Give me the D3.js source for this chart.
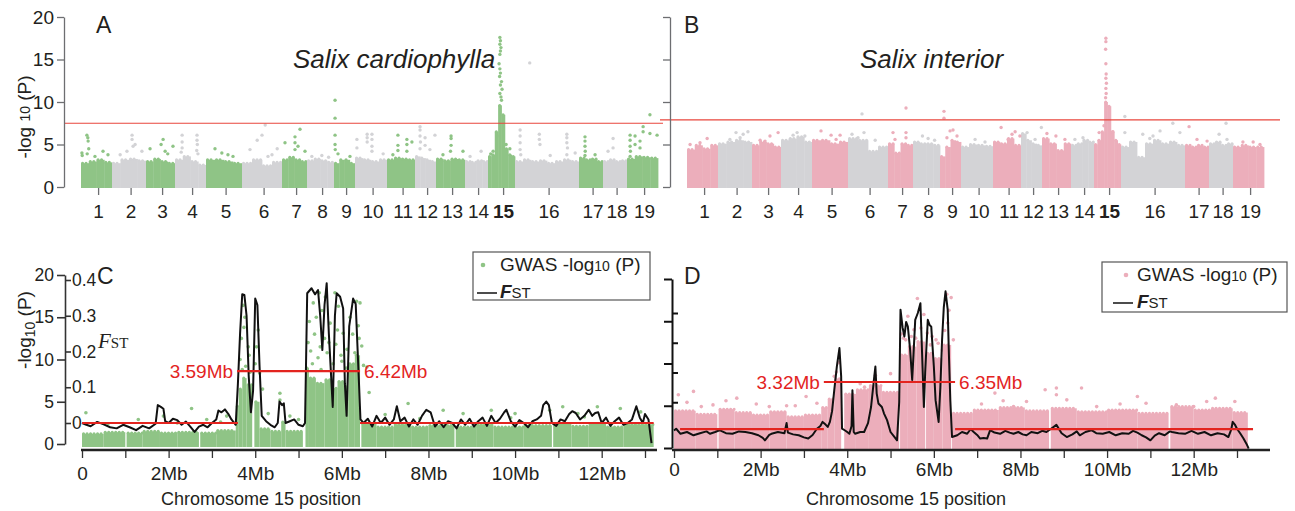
<!DOCTYPE html>
<html>
<head>
<meta charset="utf-8">
<script src="https://cdn.jsdelivr.net/npm/d3@7"></script>
<style>
  body { margin: 0; background: #fff; }
  text { font-family: "Liberation Sans", Arial, sans-serif; }
</style>
</head>
<body>
<svg id="mainsvg" width="1295" height="511"></svg>
<script>
// ---------------- data ----------------
// relative size of the 19 chromosomes (same genome layout in A and B)
const chromSize = [31, 34, 29, 31, 36, 40, 25, 27, 21, 32, 28, 21, 29, 23, 27, 64, 24, 24, 31];
const chromLabels = d3.range(1, 20).map(String);

// dense cloud of points: top of the cloud in bins along each chromosome
const bandA = [
  [2.8, 3.0, 3.2, 2.9], [2.8, 3.2, 3.3, 3.1], [3.0, 3.3, 3.0, 2.8], [3.2, 3.6, 3.0, 2.6],
  [3.2, 3.2, 3.0, 2.8], [2.8, 3.2, 2.5, 2.9], [3.2, 3.5, 3.2, 3.0], [3.1, 3.3, 3.1, 2.9],
  [2.8, 3.2, 3.2, 2.8], [3.4, 3.2, 3.0, 3.2], [3.2, 3.4, 3.3, 3.2], [3.6, 3.4, 3.2, 3.0],
  [3.3, 3.1, 3.3, 3.2], [3.0, 2.9, 3.1, 3.0], [3.6, 3.8, 6.5, 9.6, 8.5, 4.5, 3.8, 3.6],
  [3.0, 3.2, 3.0, 3.1, 2.8, 3.0, 3.2, 3.0], [3.4, 3.2, 3.3, 3.0], [3.0, 3.2, 3.0, 3.1],
  [3.3, 3.6, 3.5, 3.4]
];
const bandB = [
  [4.4, 4.9, 4.5, 4.9], [5.1, 5.3, 5.5, 5.3], [4.9, 5.3, 5.1, 4.7], [5.5, 5.7, 5.9, 5.3],
  [5.5, 5.5, 5.1, 5.3], [5.7, 5.5, 4.2, 4.7], [5.1, 4.0, 5.1, 4.9], [5.3, 5.1, 5.1, 4.9],
  [3.6, 4.7, 5.5, 5.3], [4.7, 5.0, 4.9, 4.8], [5.3, 5.1, 5.7, 4.9], [6.3, 5.5, 5.1, 4.9],
  [5.7, 5.1, 4.3, 5.1], [4.9, 5.1, 5.5, 5.3], [5.0, 5.5, 6.5, 10.0, 9.5, 6.5, 5.5, 5.0],
  [4.7, 5.3, 3.5, 5.1, 5.5, 5.1, 5.3, 4.9], [4.9, 4.7, 4.9, 4.7], [5.1, 5.3, 4.9, 5.1],
  [4.7, 4.9, 4.7, 4.7]
];

// scattered points above the cloud: [chromosome, fraction along it, -log10 P]
const outliersA = [
  [1,.19,6.1],[1,.22,5.8],[1,.23,5.4],[1,.25,4.5],[1,.2,3.9],[1,.03,4.0],[1,.04,3.7],[1,.71,4.2],[1,.87,3.8],[1,.45,3.6],
  [2,.59,6.1],[2,.59,5.6],[2,.68,5.0],[2,.62,4.8],[2,.44,4.2],[2,.88,4.2],[2,.24,3.8],
  [3,.14,4.5],[3,.59,5.6],[3,.52,5.0],[3,.93,4.8],[3,.66,4.2],[3,.75,3.9],
  [4,.23,6.1],[4,.23,5.3],[4,.23,4.6],[4,.2,4.1],[4,.71,6.1],[4,.71,5.5],[4,.72,5.0],[4,.7,4.3],[4,.74,3.9],
  [5,.25,4.5],[5,.44,4.0],[5,.75,3.6],[5,.61,3.8],
  [6,.58,7.3],[6,.5,6.1],[6,.38,5.5],[6,.2,4.4],[6,.65,3.6],[6,.88,4.5],[6,.75,3.8],
  [7,.72,6.8],[7,.52,5.9],[7,.52,5.2],[7,.52,4.4],[7,.12,5.2],[7,.92,4.2],[7,.64,4.8],
  [8,.18,3.6],[8,.55,3.7],[8,.8,3.5],
  [9,.05,10.2],[9,.05,8.1],[9,.05,6.1],[9,.05,5.0],[9,.06,4.4],[9,.19,3.9],[9,.76,3.6],
  [10,.38,6.2],[10,.38,5.8],[10,.38,5.3],[10,.53,6.2],[10,.53,5.6],[10,.53,4.8],[10,.53,4.2],[10,.06,5.6],[10,.06,4.6],[10,.88,3.9],
  [11,.39,6.1],[11,.39,4.9],[11,.39,4.3],[11,.71,5.6],[11,.71,5.0],[11,.71,4.2],[11,.89,5.3],[11,.21,3.8],
  [12,.24,7.1],[12,.24,6.7],[12,.24,6.0],[12,.26,5.3],[12,.24,4.5],[12,.48,5.8],[12,.48,4.9],[12,.95,6.1],[12,.71,4.4],
  [13,.52,6.0],[13,.52,5.7],[13,.52,4.9],[13,.5,4.2],[13,.93,4.2],[13,.24,3.8],
  [14,.7,4.2],[14,.22,3.6],
  [15,.44,17.6],[15,.46,17.2],[15,.44,16.8],[15,.48,16.4],[15,.46,16.0],[15,.44,15.6],[15,.41,14.5],[15,.44,13.9],
  [15,.46,13.4],[15,.43,13.0],[15,.5,12.4],[15,.46,12.0],[15,.52,11.5],[15,.44,11.0],[15,.48,10.6],[15,.5,10.2],
  [15,.33,6.0],[15,.19,4.2],[15,.81,4.5],[15,.67,5.0],[15,.1,3.9],
  [16,.23,14.6],[16,.08,6.7],[16,.08,6.0],[16,.08,5.2],[16,.08,4.4],[16,.09,3.8],[16,.38,6.2],[16,.38,5.6],[16,.39,5.0],
  [16,.81,6.2],[16,.81,5.8],[16,.81,5.2],[16,.82,4.6],[16,.81,3.8],[16,.55,3.7],[16,.94,4.0],
  [17,.25,5.9],[17,.25,5.4],[17,.25,4.8],[17,.26,4.2],[17,.25,3.7],[17,.67,3.8],
  [18,.42,5.7],[18,.42,4.6],[18,.21,4.2],
  [19,.74,8.5],[19,.52,7.1],[19,.52,6.5],[19,.74,6.3],[19,.97,6.1],[19,.1,6.1],[19,.1,5.5],[19,.1,4.8],[19,.11,4.2],
  [19,.1,3.6],[19,.26,6.0],[19,.26,5.0],[19,.42,5.4],[19,.42,4.6]
];
const outliersB = [
  [1,.65,5.7],[1,.42,5.2],[1,.1,5.0],
  [2,.53,6.4],[2,.74,6.2],[2,.88,6.5],[2,.35,5.6],[2,.65,5.8],
  [3,.62,6.0],[3,.9,6.4],[3,.45,5.4],[3,.28,5.5],
  [4,.39,6.1],[4,.52,6.4],[4,.77,6.0],[4,.3,5.6],
  [5,.25,6.6],[5,.53,6.1],[5,.78,6.1],[5,.11,5.2],[5,.67,5.6],
  [6,.35,8.6],[6,.1,6.2],[6,.4,6.4],[6,.25,5.8],[6,.68,5.5],
  [7,.72,9.3],[7,.2,6.4],[7,.72,6.4],[7,.72,5.8],[7,.28,5.6],
  [8,.35,6.0],[8,.56,5.7],[8,.8,5.5],
  [9,.19,8.9],[9,.19,8.1],[9,.48,6.6],[9,.62,6.7],[9,.81,6.0],[9,.33,5.8],
  [10,.44,5.6],[10,.75,5.3],
  [11,.29,7.0],[11,.68,6.2],[11,.79,6.5],[11,.96,6.0],[11,.54,5.6],
  [12,.29,6.4],[12,.97,7.0],[12,.67,5.6],
  [13,.17,6.3],[13,.48,6.0],[13,.79,5.6],
  [14,.17,5.6],[14,.52,5.8],
  [15,.44,17.5],[15,.44,17.1],[15,.43,16.2],[15,.44,14.5],[15,.45,13.3],[15,.44,12.8],[15,.46,12.2],
  [15,.44,11.6],[15,.45,11.0],[15,.43,10.5],[15,.37,7.2],[15,.7,6.5],[15,.19,6.4],
  [16,.06,8.3],[16,.06,6.4],[16,.34,6.2],[16,.61,6.6],[16,.81,7.5],[16,.92,6.4],[16,.5,6.0],[16,.45,5.7],
  [17,.17,7.1],[17,.5,5.6],[17,.92,5.4],
  [18,.71,7.5],[18,.42,6.2],[18,.75,5.6],
  [19,.32,5.3],[19,.65,5.3],[19,.87,5.0]
];
const thresholdA = 7.5;
const thresholdB = 7.9;

// chromosome 15 detail: dense cloud [start Mb, end Mb, top -log10 P]
const bandC = [
  [0.00,0.50,1.2],[0.50,1.00,1.4],[1.03,1.40,1.3],[1.40,1.80,1.5],[1.80,2.20,1.3],[2.20,2.70,1.4],
  [2.73,3.10,1.3],[3.10,3.55,1.6],[3.55,3.62,4.5],[3.62,3.70,6.5],[3.70,3.80,7.8],[3.80,3.93,7.0],
  [3.98,4.10,5.0],[4.10,4.35,1.8],[4.35,4.60,1.5],[4.60,4.70,2.6],[4.70,5.10,1.5],[5.16,5.24,9.0],
  [5.24,5.40,7.8],[5.40,5.60,7.2],[5.60,5.75,7.6],[5.75,5.90,6.6],[5.90,6.05,7.4],[6.05,6.15,6.8],
  [6.15,6.30,9.5],[6.30,6.42,10.5],[6.45,6.80,2.4],[6.80,7.20,2.0],[7.20,7.60,2.3],[7.60,8.00,2.0],
  [8.00,8.60,2.2],[8.63,9.10,2.0],[9.10,9.50,2.3],[9.50,10.20,2.0],[10.20,10.85,2.2],[10.88,11.30,2.4],
  [11.30,11.70,2.1],[11.70,12.10,2.4],[12.10,12.50,2.0],[12.50,13.20,2.3]
];
const bandD = [
  [0.00,0.50,4.4],[0.50,1.00,4.0],[1.03,1.40,4.6],[1.40,1.80,4.2],[1.80,2.20,3.9],[2.20,2.60,4.3],
  [2.60,3.00,3.7],[3.00,3.40,3.9],[3.40,3.55,4.8],[3.55,3.70,5.8],[3.70,3.86,8.2],[3.93,4.20,6.4],
  [4.20,4.50,6.9],[4.50,4.80,7.4],[4.80,5.20,6.6],[5.22,5.40,11.0],[5.40,5.60,12.0],[5.60,5.80,12.6],
  [5.82,6.00,11.2],[6.00,6.20,10.6],[6.20,6.40,12.2],[6.42,6.90,4.1],[6.90,7.50,4.5],[7.50,8.10,4.8],
  [8.10,8.66,4.4],[8.70,9.30,4.7],[9.30,10.00,4.3],[10.00,10.70,4.5],[10.70,11.42,4.1],[11.46,12.00,4.9],
  [12.00,12.40,4.5],[12.40,12.90,4.7],[12.90,13.25,4.2]
];
// scattered points [Mb, -log10 P]
const outliersC = [
  [0.09,3.7],[1.3,2.9],[1.88,3.3],[2.53,4.2],[2.88,2.9],[3.34,3.3],[0.6,2.4],[2.2,2.5],[3.2,2.6],
  [3.72,16.4],[3.76,15.0],[3.84,11.5],[3.65,10.0],[3.78,9.2],[3.7,8.8],[3.88,8.5],[3.68,12.5],[3.74,13.8],
  [3.86,10.5],[4.0,9.5],
  [4.07,13.5],[4.03,11.5],[4.1,8.4],[4.17,6.5],[4.57,6.0],[4.57,5.2],[4.8,3.3],[5.0,2.9],[4.3,3.6],
  [5.34,16.7],[5.41,15.0],[5.48,17.9],[5.37,13.0],[5.6,12.5],[5.28,11.0],[5.45,10.2],
  [5.54,15.8],[5.62,17.4],[5.73,14.3],[5.84,17.9],[5.92,16.3],[6.03,13.1],[6.19,15.0],[6.34,16.9],
  [6.42,16.7],[6.46,11.6],[5.8,9.5],[6.1,9.0],[5.98,10.5],
  [5.22,12.0],[5.25,14.5],[5.32,9.5],[5.5,11.5],[5.52,8.8],[5.66,10.8],[5.7,12.0],[5.86,11.8],
  [5.9,13.5],[6.0,9.8],[6.12,11.2],[6.25,13.0],[6.3,10.8],[6.38,14.0],[6.4,12.5],
  [6.5,9.3],[6.58,9.1],[6.63,6.1],[7.53,4.8],[8.34,4.0],[8.8,3.6],[9.45,4.0],[10.0,3.6],[10.8,4.0],
  [11.1,4.4],[11.45,3.6],[11.9,4.4],[12.43,4.2],[7.0,3.5],[12.9,3.8],[7.8,3.0],[9.9,3.1],[11.6,3.2]
];
const outliersD = [
  [0.1,6.3],[0.45,6.7],[0.63,4.9],[1.45,5.9],[0.9,5.1],[2.2,4.9],[3.05,6.1],[1.9,5.2],[2.6,5.0],
  [0.3,5.4],[1.2,5.6],[2.8,5.0],[3.3,5.3],
  [3.7,8.5],[3.8,10.1],[4.55,7.3],[4.63,8.0],[5.0,8.8],[4.3,7.6],[3.75,9.0],[4.65,8.6],[4.4,7.2],
  [5.62,17.7],[5.4,15.6],[5.54,14.0],[5.77,15.8],[5.96,13.2],[6.3,18.2],[6.4,17.8],[6.45,12.8],
  [6.2,11.6],[6.35,16.3],[5.3,13.0],[6.05,12.8],
  [5.25,13.5],[5.35,12.8],[5.48,13.2],[5.58,13.0],[5.7,14.2],[5.85,13.6],[5.92,12.2],[6.1,12.4],
  [6.25,13.9],[6.32,14.8],
  [7.41,6.5],[8.57,6.9],[8.83,7.1],[8.83,6.3],[9.41,7.1],[9.76,4.9],[10.3,5.2],[10.7,6.1],
  [11.6,5.1],[12.0,4.9],[12.95,5.5],[8.14,5.5],[9.07,5.7],[7.84,4.9],[7.1,5.2],
  [7.6,5.6],[10.9,5.3],[12.5,5.9],[12.3,5.5]
];

// FST sliding window [Mb, FST]
const fstC = [
  [0,0],[0.1,-0.005],[0.2,-0.009],[0.35,0.003],[0.5,-0.004],[0.65,-0.012],[0.8,-0.015],[0.95,-0.005],
  [1.1,-0.012],[1.25,-0.02],[1.4,-0.008],[1.55,-0.015],[1.7,-0.002],[1.75,0.05],[1.82,0.045],[1.88,0.04],
  [1.92,0.005],[2.0,0],[2.1,0.012],[2.2,0.008],[2.3,-0.005],[2.4,0.004],[2.5,-0.01],[2.6,-0.025],
  [2.7,-0.01],[2.8,-0.005],[2.9,-0.012],[3.0,0],[3.1,0.01],[3.15,0.035],[3.22,0.03],[3.3,0.038],
  [3.38,0.025],[3.45,0.01],[3.55,-0.005],[3.6,0.11],[3.65,0.25],[3.7,0.36],[3.75,0.358],[3.8,0.3],
  [3.85,0.13],[3.9,0.03],[3.95,0.09],[4.0,0.348],[4.05,0.33],[4.1,0.158],[4.15,0.02],[4.25,0.005],
  [4.35,-0.005],[4.45,-0.012],[4.52,0],[4.56,0.06],[4.62,0.05],[4.66,0.055],[4.7,0],[4.8,0.005],
  [4.9,0.01],[5.0,-0.005],[5.1,-0.009],[5.15,0],[5.2,0.363],[5.3,0.377],[5.38,0.36],[5.45,0.372],
  [5.5,0.3],[5.55,0.204],[5.6,0.33],[5.65,0.391],[5.7,0.25],[5.79,0.045],[5.84,0.3],[5.88,0.363],
  [5.96,0.353],[6.03,0.32],[6.07,0.11],[6.11,0.02],[6.17,0.27],[6.26,0.348],[6.32,0.333],[6.38,0.158],
  [6.43,0.01],[6.5,0],[6.6,0.012],[6.7,-0.01],[6.8,0.02],[6.9,0],[7.0,0.015],[7.1,-0.005],[7.2,0.01],
  [7.27,0.047],[7.35,0.005],[7.45,0.015],[7.55,-0.01],[7.65,0.01],[7.75,-0.005],[7.85,0.02],[7.95,0.037],
  [8.05,0.03],[8.15,-0.01],[8.25,0.005],[8.35,-0.012],[8.45,0.005],[8.55,0],[8.65,-0.015],[8.75,0.01],
  [8.85,-0.005],[8.95,0.012],[9.05,-0.01],[9.15,0.005],[9.25,0.015],[9.35,-0.008],[9.45,0.02],[9.55,0],
  [9.65,0.012],[9.75,0.03],[9.8,0.037],[9.9,0.005],[10.0,-0.01],[10.1,0.008],[10.2,0],[10.3,-0.012],
  [10.4,0.005],[10.5,0.01],[10.6,0.02],[10.65,0.05],[10.72,0.06],[10.78,0.05],[10.85,0],[10.95,-0.008],
  [11.05,0.01],[11.15,0.005],[11.25,0.025],[11.32,0.033],[11.4,0.028],[11.5,0.01],[11.6,0.02],[11.7,0.037],
  [11.78,0.02],[11.85,0.028],[11.92,0.03],[12.0,0],[12.1,0.015],[12.2,-0.008],[12.3,0.005],[12.4,0.015],
  [12.5,-0.005],[12.6,0],[12.7,0.01],[12.8,0.047],[12.88,0.015],[12.95,0],[13.0,0.025],[13.08,0.01],
  [13.15,-0.056]
];
const fstD = [
  [0,0.005],[0.05,0.011],[0.15,-0.006],[0.3,0],[0.45,-0.011],[0.6,-0.004],[0.75,0.002],[0.83,-0.006],
  [0.95,0],[1.05,0.006],[1.2,-0.004],[1.35,-0.006],[1.5,0.002],[1.65,0],[1.8,-0.004],[1.95,-0.011],
  [2.05,-0.02],[2.1,-0.028],[2.2,-0.01],[2.25,-0.006],[2.4,0],[2.55,-0.004],[2.6,0.03],[2.63,-0.002],
  [2.75,-0.008],[2.88,-0.011],[3.0,-0.018],[3.1,-0.022],[3.2,-0.01],[3.3,0.011],[3.38,0.02],[3.43,0.034],
  [3.5,0.025],[3.55,0.017],[3.6,0.034],[3.65,0.07],[3.7,0.14],[3.76,0.22],[3.82,0.282],[3.86,0.186],
  [3.88,0.011],[3.95,0.005],[4.0,0],[4.05,-0.006],[4.1,0.02],[4.12,0.14],[4.15,0],[4.18,-0.006],
  [4.3,0],[4.39,0],[4.48,0.03],[4.55,0.084],[4.62,0.18],[4.65,0.22],[4.68,0.13],[4.72,0.096],
  [4.8,0.084],[4.85,0.062],[4.92,0.04],[5.0,0],[5.08,-0.015],[5.15,-0.028],[5.2,0.1],[5.23,0.411],
  [5.28,0.35],[5.32,0.321],[5.36,0.37],[5.4,0.354],[5.45,0.28],[5.5,0.175],[5.53,0.26],[5.57,0.377],
  [5.63,0.4],[5.69,0.433],[5.72,0.3],[5.77,0.084],[5.8,0.2],[5.86,0.377],[5.9,0.36],[5.94,0.354],
  [6.0,0.22],[6.04,0.107],[6.11,0.034],[6.15,0.15],[6.19,0.31],[6.23,0.42],[6.27,0.473],[6.32,0.411],
  [6.35,0.25],[6.38,0.107],[6.42,-0.017],[6.54,-0.011],[6.65,0],[6.77,-0.006],[6.85,0.01],[6.92,0],
  [7.0,-0.01],[7.07,-0.022],[7.15,-0.02],[7.23,-0.022],[7.3,0.006],[7.4,-0.002],[7.53,-0.006],[7.65,0.004],
  [7.75,-0.002],[7.84,-0.006],[7.95,0],[8.05,-0.008],[8.14,-0.011],[8.25,0],[8.4,-0.004],[8.5,0.004],
  [8.6,0],[8.7,0.01],[8.83,0.024],[8.95,-0.004],[9.07,-0.017],[9.2,-0.008],[9.3,0.002],[9.37,-0.011],
  [9.5,0],[9.64,0.006],[9.75,-0.004],[9.9,-0.006],[10.05,0],[10.2,-0.011],[10.35,-0.004],[10.5,-0.006],
  [10.6,0.004],[10.7,-0.002],[10.8,-0.011],[10.9,-0.018],[11.0,-0.028],[11.1,-0.012],[11.2,-0.004],
  [11.33,-0.011],[11.45,0.002],[11.5,0],[11.65,-0.004],[11.8,-0.006],[11.95,0.004],[12.1,-0.006],
  [12.25,0],[12.4,-0.011],[12.55,-0.004],[12.7,-0.008],[12.8,-0.017],[12.87,0.01],[12.9,0.034],
  [12.95,0.025],[13.0,0.011],[13.08,-0.006],[13.15,-0.022],[13.22,-0.04],[13.27,-0.056]
];
// mean FST segments [start Mb, end Mb, FST] and the breakpoint labels
const segC = [[0, 3.6, 0.0], [3.58, 6.42, 0.145], [6.42, 13.2, 0.0]];
const segD = [[0.14, 3.46, 0.01], [3.46, 6.49, 0.168], [6.49, 13.37, 0.01]];
const breaksC = ['3.59Mb', '6.42Mb'];
const breaksD = ['3.32Mb', '6.35Mb'];

const pTicks = [0, 5, 10, 15, 20];
const fstTicks = [0, 0.1, 0.2, 0.3, 0.4];
const mbTicks = d3.range(0, 14);

// ---------------- drawing ----------------
const svg = d3.select('#mainsvg');
const ink = '#231f20';
const green = '#8fc486', grey = '#d3d3d6', pink = '#ecaebb', red = '#e3241f';

const starts = chromSize.map((d, i) => d3.sum(chromSize.slice(0, i)));
const total = d3.sum(chromSize);

// beaded top edge so the dense cloud reads as points
function beads(sel, color) {
  sel.attr('stroke', color).attr('stroke-width', 3).attr('stroke-linecap', 'round')
    .attr('stroke-dasharray', '0.1 3.4').attr('fill', 'none');
}

// 1. Manhattan plots (A, B)
function manhattan(o) {
  const x = d3.scaleLinear().domain([0, total]).range(o.xr);
  const y = d3.scaleLinear().domain([0, 20]).range([187, 17]);
  const col = i => (i % 2 === 0 ? o.color : grey);
  const g = svg.append('g');

  o.band.forEach((prof, i) => {
    const w = chromSize[i] / prof.length;
    const bg = g.append('g');
    bg.selectAll('rect').data(prof).join('rect')
      .attr('x', (d, k) => x(starts[i] + k * w))
      .attr('width', x(w) - x(0) + 0.4)
      .attr('y', d => y(d))
      .attr('height', d => y(0) - y(d) + 1)
      .attr('fill', col(i));
    bg.selectAll('line').data(prof).join('line')
      .attr('x1', (d, k) => x(starts[i] + k * w) + 1.5)
      .attr('x2', (d, k) => x(starts[i] + (k + 1) * w) - 0.5)
      .attr('y1', d => y(d)).attr('y2', d => y(d))
      .call(beads, col(i));
  });

  g.append('g').selectAll('circle').data(o.points).join('circle')
    .attr('cx', d => x(starts[d[0] - 1] + d[1] * chromSize[d[0] - 1]))
    .attr('cy', d => y(d[2]))
    .attr('r', 1.7)
    .attr('fill', d => col(d[0] - 1));

  g.append('line')
    .attr('x1', o.lineX[0]).attr('x2', o.lineX[1])
    .attr('y1', y(o.threshold)).attr('y2', y(o.threshold))
    .attr('stroke', '#e8463c').attr('stroke-width', 1.2);

  const ay = g.append('g')
    .attr('transform', `translate(${o.axisX},0)`)
    .call(d3.axisLeft(y).tickValues(pTicks).tickSize(7).tickSizeOuter(0).tickPadding(3)
      .tickFormat(o.labels ? d3.format('d') : ''));
  ay.selectAll('path,line').attr('stroke', '#6d6e71').attr('stroke-width', 1.3);
  ay.selectAll('text').attr('font-size', 19).attr('fill', ink);

  const centers = chromSize.map((d, i) => starts[i] + d / 2 + 1.6 * total / 577);
  const ax = g.append('g')
    .attr('transform', 'translate(0,188)')
    .call(d3.axisBottom(x).tickValues(centers).tickSize(7).tickPadding(10)
      .tickFormat((d, i) => chromLabels[i]));
  ax.select('.domain').remove();
  ax.selectAll('line').attr('stroke', '#6d6e71').attr('stroke-width', 1.3);
  ax.selectAll('text').attr('font-size', 19).attr('fill', ink)
    .attr('font-weight', (d, i) => (i === 14 ? 'bold' : null));

  g.append('text').attr('x', o.letterX).attr('y', 33).attr('font-size', 23).attr('fill', ink).text(o.letter);
  g.append('text').attr('x', o.titleX).attr('y', 68).attr('font-size', 26).attr('fill', ink)
    .attr('font-style', 'italic').text(o.title);
}

manhattan({ xr: [81, 658], color: green, band: bandA, points: outliersA, threshold: thresholdA,
  lineX: [64, 663], axisX: 64, labels: true, letter: 'A', letterX: 96, title: 'Salix cardiophylla', titleX: 293 });
manhattan({ xr: [687, 1264], color: pink, band: bandB, points: outliersB, threshold: thresholdB,
  lineX: [660, 1280], axisX: 670, labels: false, letter: 'B', letterX: 684, title: 'Salix interior', titleX: 860 });

// y title of A
svg.append('text')
  .attr('transform', 'translate(31,117) rotate(-90)')
  .attr('text-anchor', 'middle').attr('font-size', 19).attr('fill', ink)
  .call(t => {
    t.append('tspan').text('-log ');
    t.append('tspan').attr('font-size', 14).attr('dy', -1).text('10');
    t.append('tspan').attr('dy', 1).text(' (P)');
  });

// 2. chromosome 15 detail (C, D)
function detail(o) {
  const x = d3.scaleLinear().domain([0, 13]).range(o.xr);
  const yP = d3.scaleLinear().domain([0, 20]).range(o.yP);
  const yF = d3.scaleLinear().domain([0, 0.4]).range(o.yF);
  const g = svg.append('g');

  g.append('g').selectAll('rect').data(o.band).join('rect')
    .attr('x', d => x(d[0]))
    .attr('width', d => x(d[1]) - x(d[0]))
    .attr('y', d => yP(d[2]))
    .attr('height', d => yP(0) - yP(d[2]) + 3)
    .attr('fill', o.color);
  g.append('g').selectAll('line').data(o.band).join('line')
    .attr('x1', d => x(d[0]) + 1.5).attr('x2', d => x(d[1]) - 0.5)
    .attr('y1', d => yP(d[2])).attr('y2', d => yP(d[2]))
    .call(beads, o.color);

  g.append('g').selectAll('circle').data(o.points).join('circle')
    .attr('cx', d => x(d[0])).attr('cy', d => yP(d[1]))
    .attr('r', 1.8).attr('fill', o.color);

  g.append('path').datum(o.fst)
    .attr('d', d3.line().x(d => x(d[0])).y(d => yF(d[1])))
    .attr('fill', 'none').attr('stroke', '#111').attr('stroke-width', 2)
    .attr('stroke-linejoin', 'round');

  g.append('g').selectAll('line').data(o.seg).join('line')
    .attr('x1', d => x(d[0])).attr('x2', d => x(d[1]))
    .attr('y1', d => yF(d[2])).attr('y2', d => yF(d[2]))
    .attr('stroke', red).attr('stroke-width', 2.2);

  const up = o.seg[1];
  g.append('text').attr('x', x(up[0]) - 4).attr('y', yF(up[2]) + 7)
    .attr('text-anchor', 'end').attr('font-size', 19).attr('fill', red).text(o.breaks[0]);
  g.append('text').attr('x', x(up[1]) + 4).attr('y', yF(up[2]) + 7)
    .attr('font-size', 19).attr('fill', red).text(o.breaks[1]);

  // left axis (-log10 P)
  const aP = g.append('g').attr('transform', `translate(${o.axisX},0)`)
    .call(d3.axisLeft(yP).tickValues(pTicks).tickSize(8).tickSizeOuter(0).tickPadding(3)
      .tickFormat(o.labels ? d3.format('d') : ''));
  aP.selectAll('path,line').attr('stroke', o.axisColor).attr('stroke-width', o.axisWidth);
  aP.selectAll('text').attr('font-size', 17.5).attr('fill', ink);

  // FST ticks on the same spine
  const aF = g.append('g').attr('transform', `translate(${o.axisX},0)`)
    .call(d3.axisRight(yF).tickValues(o.labels ? fstTicks : fstTicks.slice(1)).tickSize(6).tickPadding(1)
      .tickFormat(o.labels ? (d => (d === 0 ? '0' : d3.format('.1f')(d))) : ''));
  aF.select('.domain').remove();
  aF.selectAll('line').attr('stroke', o.axisColor).attr('stroke-width', o.axisWidth);
  aF.selectAll('text').attr('font-size', 17.5).attr('fill', ink);

  // position axis
  const ax = g.append('g').attr('transform', 'translate(0,450)')
    .call(d3.axisBottom(x).tickValues(mbTicks).tickSize(8).tickSizeOuter(0).tickPadding(o.xPad)
      .tickFormat(d => (d % 2 ? '' : d === 0 ? '0' : d + 'Mb')));
  ax.select('.domain').remove();
  ax.selectAll('line').attr('stroke', '#333').attr('stroke-width', 1.3);
  ax.selectAll('text').attr('font-size', 19).attr('fill', ink);
  g.append('line').attr('x1', o.xLine[0]).attr('x2', o.xLine[1]).attr('y1', 450).attr('y2', 450)
    .attr('stroke', '#222').attr('stroke-width', 2.6);

  g.append('text').attr('x', o.xTitleX).attr('y', 505).attr('text-anchor', 'middle')
    .attr('font-size', 18).attr('fill', ink).text('Chromosome 15 position');
  g.append('text').attr('x', o.letterX).attr('y', 284).attr('font-size', 23).attr('fill', ink).text(o.letter);

  // legend
  const L = o.legend;
  const lg = g.append('g').attr('transform', `translate(${L.x},${L.y})`);
  lg.append('rect').attr('width', L.w).attr('height', L.h)
    .attr('fill', '#fff').attr('stroke', '#555').attr('stroke-width', 1.2);
  lg.append('circle').attr('cx', L.dot).attr('cy', 13).attr('r', 2.3).attr('fill', o.color);
  lg.append('text').attr('x', L.tx).attr('y', 19).attr('font-size', 19).attr('fill', ink)
    .call(t => {
      t.append('tspan').text('GWAS -log');
      t.append('tspan').attr('font-size', 14).text('10');
      t.append('tspan').text(' (P)');
    });
  lg.append('line').attr('x1', L.lx).attr('x2', L.lx + 20).attr('y1', 41).attr('y2', 41)
    .attr('stroke', '#111').attr('stroke-width', 1.5);
  lg.append('text').attr('x', L.tx).attr('y', 46).attr('font-size', 19).attr('fill', ink)
    .call(t => {
      t.append('tspan').attr('font-weight', 'bold').attr('font-style', 'italic').text('F');
      t.append('tspan').attr('font-size', 15).text('ST');
    });
}

detail({ xr: [82, 645], yP: [444, 275], yF: [423, 280], color: green, band: bandC, points: outliersC,
  fst: fstC, seg: segC, breaks: breaksC, axisX: 65, labels: true, axisColor: '#333', axisWidth: 1.6,
  xPad: 9, xLine: [81, 657], xTitleX: 261, letter: 'C', letterX: 97,
  legend: { x: 473, y: 252, w: 177, h: 48, dot: 10, tx: 27, lx: 4 } });
detail({ xr: [674, 1237], yP: [448, 279], yF: [432, 313], color: pink, band: bandD, points: outliersD,
  fst: fstD, seg: segD, breaks: breaksD, axisX: 672, labels: false, axisColor: '#111', axisWidth: 2,
  xPad: 5, xLine: [672, 1270], xTitleX: 906, letter: 'D', letterX: 684,
  legend: { x: 1102, y: 262, w: 185, h: 50, dot: 24, tx: 35, lx: 11 } });

// y title of C and FST label
svg.append('text')
  .attr('transform', 'translate(31,330) rotate(-90)')
  .attr('text-anchor', 'middle').attr('font-size', 19).attr('fill', ink)
  .call(t => {
    t.append('tspan').text('-log');
    t.append('tspan').attr('font-size', 14).attr('dy', 4).text('10');
    t.append('tspan').attr('dy', -4).text(' (P)');
  });
svg.append('text').attr('x', 98).attr('y', 348).attr('fill', ink)
  .style('font-family', '"Liberation Serif", "Times New Roman", serif')
  .call(t => {
    t.append('tspan').attr('font-style', 'italic').attr('font-size', 21).text('F');
    t.append('tspan').attr('font-size', 15).text('ST');
  });
</script>
</body>
</html>
